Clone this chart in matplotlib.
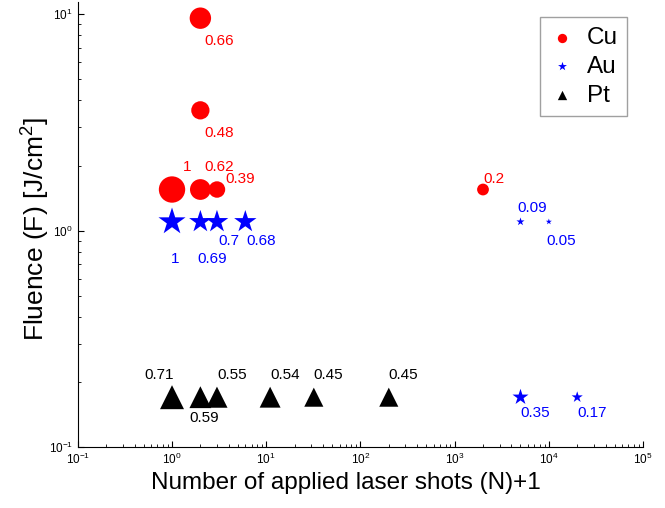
import matplotlib
matplotlib.use('Agg')
import matplotlib.pyplot as plt
import numpy as np

plt.rcParams['font.family'] = ['Liberation Sans', 'DejaVu Sans']
plt.rcParams['mathtext.fontset'] = 'custom'
plt.rcParams['mathtext.rm'] = 'Liberation Sans'
plt.rcParams['mathtext.it'] = 'Liberation Sans:italic'

# data
cu_n = [2, 2, 1, 2, 3, 2000]
cu_f = [9.6, 3.6, 1.55, 1.55, 1.55, 1.55]
cu_v = [0.66, 0.48, 1, 0.62, 0.39, 0.2]

au_n = [1, 2, 3, 6, 5000, 10000, 5000, 20000]
au_f = [1.1, 1.1, 1.1, 1.1, 1.1, 1.1, 0.17, 0.17]
au_v = [1, 0.69, 0.7, 0.68, 0.09, 0.05, 0.35, 0.17]

pt_n = [1, 2, 3, 11, 32, 200]
pt_f = [0.17, 0.17, 0.17, 0.17, 0.17, 0.17]
pt_v = [0.71, 0.59, 0.55, 0.54, 0.45, 0.45]

# label offsets in points (dx, dy)
cu_off = [(3, -19), (3, -19), (8, 13), (3, 13), (6, 5), (0, 5)]
au_off = [(-1, -30), (-2, -30), (1, -17), (1, -17), (-2, 7), (-2, -17), (0, -14), (0, -14)]
pt_off = [(-20, 13), (-8, -18), (0, 13), (0, 13), (0, 13), (0, 13)]

fig = plt.figure(figsize=(6.65, 5.08), dpi=100)
ax = fig.add_axes([0.117, 0.12, 0.85, 0.876])

ax.scatter(cu_n, cu_f, s=np.array(cu_v) * 360, c='red', marker='o', linewidths=0, zorder=3)
ax.scatter(au_n, au_f, s=np.array(au_v) * 420, c='blue', marker='*', linewidths=0, zorder=3)
ax.scatter(pt_n, pt_f, s=np.array(pt_v) * 420, c='black', marker='^', linewidths=0, zorder=3)

for n, f, v, o in zip(cu_n, cu_f, cu_v, cu_off):
    ax.annotate(str(v), (n, f), xytext=o, textcoords='offset points', color='red', fontsize=11)
for n, f, v, o in zip(au_n, au_f, au_v, au_off):
    ax.annotate(str(v), (n, f), xytext=o, textcoords='offset points', color='blue', fontsize=11)
for n, f, v, o in zip(pt_n, pt_f, pt_v, pt_off):
    ax.annotate(str(v), (n, f), xytext=o, textcoords='offset points', color='black', fontsize=11)

# legend handles with small markers
h1 = ax.scatter([], [], s=45, c='red', marker='o', linewidths=0, label='Cu')
h2 = ax.scatter([], [], s=45, c='blue', marker='*', linewidths=0, label='Au')
h3 = ax.scatter([], [], s=45, c='black', marker='^', linewidths=0, label='Pt')
leg = ax.legend(handles=[h1, h2, h3], loc='upper right', bbox_to_anchor=(0.972, 0.966),
                fontsize=17.5, frameon=True, fancybox=False, edgecolor='#888888',
                handlelength=1.0, handletextpad=0.5, borderpad=0.4, labelspacing=0.28,
                borderaxespad=0)
leg.get_frame().set_linewidth(1.0)

ax.set_xscale('log')
ax.set_yscale('log')
ax.set_xlim(0.1, 1e5)
ax.set_ylim(0.1, 11.4)

ax.spines['top'].set_visible(False)
ax.spines['right'].set_visible(False)
ax.tick_params(which='both', direction='in', labelsize=8.5)
ax.tick_params(which='major', length=4)
ax.tick_params(which='minor', length=2)

ax.set_xlabel('Number of applied laser shots (N)+1', fontsize=17.5)
ax.xaxis.set_label_coords(0.474, -0.055)
ax.set_ylabel('Fluence (F) [J/cm$^2$]', fontsize=19)
ax.yaxis.set_label_coords(-0.045, 0.49)

fig.savefig('out.png', dpi=100)
